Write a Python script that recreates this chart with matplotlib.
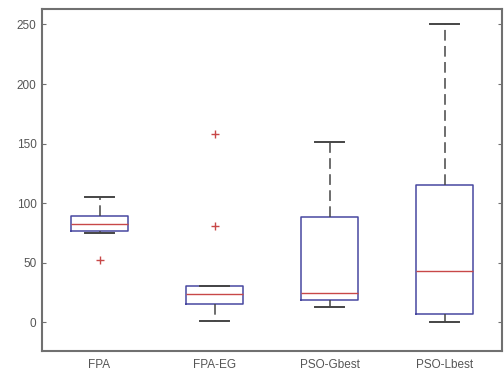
import matplotlib
matplotlib.use("Agg")
import matplotlib.pyplot as plt

categories = ["FPA", "FPA-EG", "PSO-Gbest", "PSO-Lbest"]
whislo = [74.7, 1.1, 13.1, 0.0]
q1 = [76.9, 15.4, 18.7, 6.7]
med = [82.5, 23.5, 24.3, 43.0]
q3 = [89.4, 30.4, 88.6, 115.2]
whishi = [104.9, 30.4, 151.0, 250.2]
fliers = [[52.3], [158.5, 80.5], [], []]

stats = []
for i, name in enumerate(categories):
    stats.append(dict(label=name, whislo=whislo[i], q1=q1[i], med=med[i],
                      q3=q3[i], whishi=whishi[i], fliers=fliers[i]))

fig = plt.figure(figsize=(5.04, 3.74), dpi=100)
ax = fig.add_axes([42/504, 1-351/374, 460/504, 342/374])

blue = "#4848a0"
red = "#c84848"
dark = "#454545"
ax.bxp(stats, positions=[1, 2, 3, 4], widths=0.5, showfliers=True,
       boxprops=dict(color=blue, linewidth=1.1),
       medianprops=dict(color=red, linewidth=1.0),
       whiskerprops=dict(color=dark, linewidth=1.1, linestyle=(0, (7, 3.5))),
       capprops=dict(color=dark, linewidth=1.4),
       flierprops=dict(marker="+", markeredgecolor=red, markersize=6,
                       markeredgewidth=1.0, linestyle="none"),
       capwidths=0.25)

ax.set_xlim(0.5, 4.5)
ax.set_ylim(-24, 263)
ax.set_yticks([0, 50, 100, 150, 200, 250])
ax.set_xticks([1, 2, 3, 4])
ax.set_xticklabels(categories)
for s in ax.spines.values():
    s.set_color("#707070")
    s.set_linewidth(1.5)
ax.tick_params(axis="y", direction="in", right=True, length=3, color="#707070",
               labelsize=8.5, labelcolor="#555555", pad=4)
ax.tick_params(axis="x", length=0, labelsize=8.5, labelcolor="#555555", pad=6)
for lab in ax.get_xticklabels() + ax.get_yticklabels():
    lab.set_family("Liberation Sans")

fig.savefig("out.png", dpi=100)
